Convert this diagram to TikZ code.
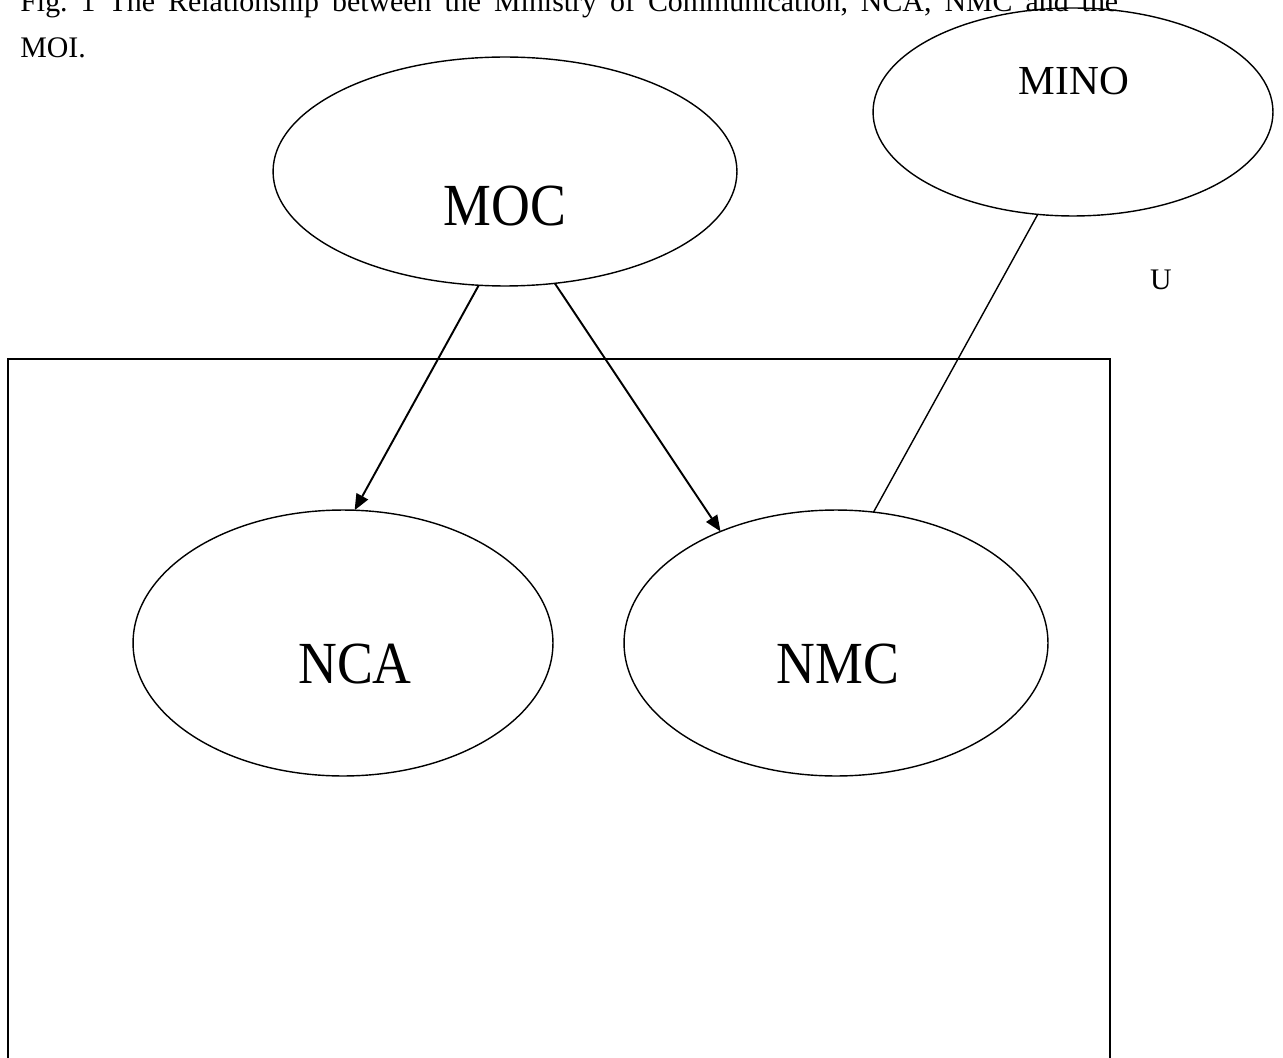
\documentclass[tikz,border=0pt]{standalone}
\usepackage{fontspec}
\setmainfont{Liberation Serif}
\usetikzlibrary{shapes.geometric}
\usetikzlibrary{arrows.meta}
\tikzset{oval/.style={draw,ellipse,line width=0.8pt,inner sep=0pt,outer sep=0pt},
    lbl/.style={inner sep=0pt,anchor=base},
    link/.style={line width=1.1pt},
    -tri-/.style={-{Triangle[length=0.32cm,width=0.26cm]}}
}
\newcommand{\bigtxt}[1]{\fontsize{34pt}{38pt}\selectfont\scalebox{0.9}[1]{#1}}

\begin{document}
\frenchspacing
\begin{tikzpicture}[x=0.02cm,y=-0.02cm]
                \useasboundingbox (0,0) rectangle (1283,1057);
                \clip (0,0) rectangle (1283,1057);

                % Caption
                \node[lbl,anchor=base west] (cap1) at (20,12) {\fontsize{17pt}{20pt}\selectfont\makebox[21.96cm][s]{Fig. 1 The Relationship between the Ministry of Communication, NCA, NMC and the}};
                \node[lbl,anchor=base west] (cap2) at (20,58) {\fontsize{17pt}{20pt}\selectfont MOI.};

                % Frame
                \draw[line width=1.2pt] (8,1100) -- (8,359) -- (1110,359) -- (1110,1100);

                % Ellipses
                \node[oval,minimum width=9.28cm,minimum height=4.58cm] (moc) at (505,171.5) {};
                \node[oval,minimum width=8cm,minimum height=4.16cm] (mino) at (1073,112) {};
                \node[oval,minimum width=8.4cm,minimum height=5.32cm] (nca) at (343,643) {};
                \node[oval,minimum width=8.48cm,minimum height=5.32cm] (nmc) at (836,643) {};

                % Labels
                \node[lbl] (moc-txt) at (505,226) {\bigtxt{MOC}};
                \node[lbl] (mino-txt) at (1074,95) {\fontsize{23.5pt}{26pt}\selectfont MINO};
                \node[lbl] (nca-txt) at (355,683) {\bigtxt{NCA}};
                \node[lbl] (nmc-txt) at (838,683) {\bigtxt{NMC}};
                \node[lbl] (u-txt) at (1161,290) {\fontsize{17pt}{20pt}\selectfont U};

                % Links
                \draw[link,-tri-] (moc.257.5) -- (nca.85);
                \draw[link,-tri-] (moc.294) -- (nmc.136.2);
                \draw[line width=0.8pt] (mino.251.7) -- (nmc.74);
            \end{tikzpicture}
\end{document}
